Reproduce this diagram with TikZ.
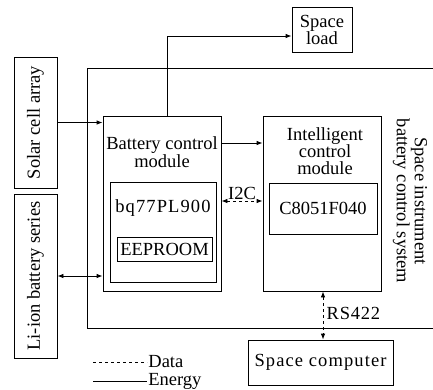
\documentclass[tikz,border=0pt]{standalone}
\usepackage{fontspec}
\setmainfont{Liberation Serif}
\usetikzlibrary{arrows.meta}
\begin{document}
\begin{tikzpicture}[x=1pt,y=-1pt,
        box/.style={draw,line width=0.8pt,inner sep=0pt},
        tip/.style={-{Latex[length=6pt,width=4.5pt]}},
        tips/.style={{Latex[length=6pt,width=4.5pt]}-{Latex[length=6pt,width=4.5pt]}},
        font=\fontsize{18.5}{21}\selectfont]
        \useasboundingbox (0,0) rectangle (433,389);

        % marco del sistema
        \draw[line width=1pt] (440,68) -- (87,68) -- (87,328) -- (440,328);
        \node[align=center] (sys) at (410,201) {\rotatebox{-90}{\begin{tabular}{@{}c@{}}Space instrument\\[-3pt]battery control system\end{tabular}}};

        % cajas exteriores
        \node[box,minimum width=43,minimum height=131] (solar) at (35.5,122.5) {\rotatebox{90}{Solar cell array}};
        \node[box,minimum width=43,minimum height=164] (liion) at (35.5,276) {\rotatebox{90}{Li-ion battery series}};
        \node[box,minimum width=60,minimum height=45,align=center] (load) at (322,29.5) {Space\\[-4pt]load};
        \node[box,minimum width=145,minimum height=45] (computer) at (320.5,362.5) {\addfontfeature{LetterSpace=6}Space computer};

        % modulos
        \node[box,minimum width=118,minimum height=175] (battery) at (162,203.5) {};
        \node[align=center] (batterytext) at (162,152) {Battery control\\[-3pt]module};
        \node[box,minimum width=106,minimum height=100] (bq) at (163,232) {};
        \node (bqtext) at (163,208) {\addfontfeature{LetterSpace=6}bq77PL900};
        \node[box,minimum width=95,minimum height=24] (eeprom) at (164.5,249) {EEPROOM};

        \node[box,minimum width=118,minimum height=175] (intel) at (322,203.5) {};
        \node[align=center] (inteltext) at (325,151) {Intelligent\\[-4pt]control\\[-4pt]module};
        \node[box,minimum width=108,minimum height=51] (c8051) at (323,208.5) {C8051F040};

        % conexiones
        \draw[tip,line width=0.8pt] (solar.east) -- (solar.east -| battery.west);
        \draw[tips,line width=0.8pt] (liion.east) -- (liion.east -| battery.west);
        \draw[tip,line width=0.8pt] ([xshift=5pt]battery.north) |- ([yshift=-6.5pt]load.west);
        \draw[tip,line width=0.8pt] ([yshift=60.5pt]battery.east) -- ([yshift=60.5pt]intel.west);
        \draw[tips,dashed,line width=0.8pt] ([yshift=2.5pt]battery.east) -- node[above,inner sep=1pt] (i2c) {I2C} ([yshift=2.5pt]intel.west);
        \draw[tips,dashed,line width=0.8pt] ([xshift=1pt]intel.south) -- node[pos=0.45,right] (rs) {\addfontfeature{LetterSpace=4}RS422} ([xshift=1pt]intel.south |- computer.north);

        % leyenda
        \coordinate (dataA) at (93,362);
        \coordinate (dataB) at (147,362);
        \coordinate (energyA) at (93,381);
        \coordinate (energyB) at (147,381);
        \draw[dashed,line width=0.8pt] (dataA) -- (dataB) node[right,inner sep=1pt] (data) {Data};
        \draw[line width=0.8pt] (energyA) -- (energyB) node[right,inner sep=1pt] (energy) {Energy};
\end{tikzpicture}
\end{document}
